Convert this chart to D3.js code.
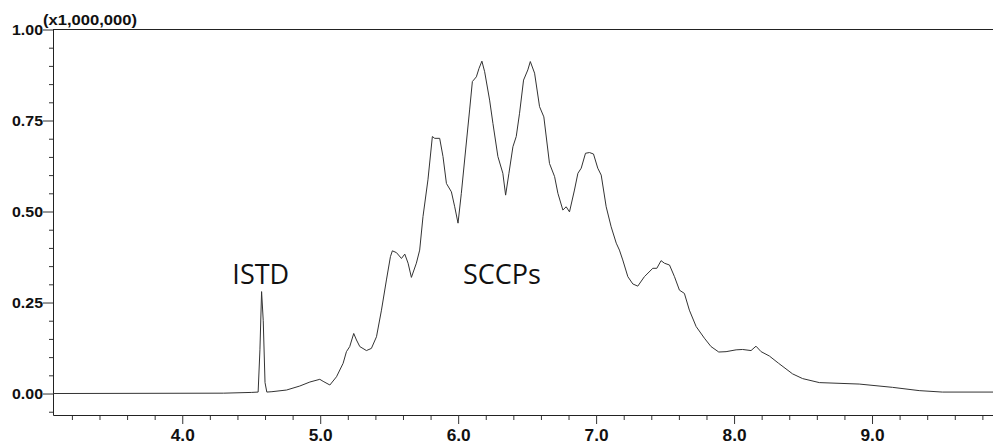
<!DOCTYPE html>
<html>
<head>
<meta charset="utf-8">
<script src="https://cdn.jsdelivr.net/npm/d3@7"></script>
<style>
  body { margin: 0; background: #fff; }
</style>
</head>
<body>
<div id="chrom"></div>
<script>
// retention time (min) and intensity (x1,000,000)
let times = [3.063, 4.30, 4.50, 4.55, 4.563, 4.575, 4.587, 4.60, 4.613, 4.65, 4.756, 4.852, 4.925, 4.997,
  5.021, 5.07, 5.118, 5.166, 5.19, 5.214, 5.243, 5.263, 5.287, 5.335, 5.371, 5.408, 5.444, 5.48,
  5.509, 5.523, 5.553, 5.589, 5.613, 5.637, 5.661, 5.697, 5.721, 5.745, 5.781, 5.813, 5.83, 5.866,
  5.89, 5.915, 5.951, 5.975, 5.999, 6.023, 6.054, 6.083, 6.103, 6.132, 6.151, 6.172, 6.192, 6.228,
  6.252, 6.288, 6.324, 6.344, 6.368, 6.397, 6.421, 6.445, 6.474, 6.505, 6.523, 6.554, 6.59, 6.621,
  6.662, 6.699, 6.723, 6.759, 6.783, 6.807, 6.843, 6.868, 6.892, 6.923, 6.952, 6.981, 7.012, 7.037,
  7.073, 7.109, 7.146, 7.169, 7.193, 7.23, 7.266, 7.302, 7.35, 7.411, 7.44, 7.471, 7.495, 7.532,
  7.568, 7.604, 7.64, 7.676, 7.725, 7.785, 7.833, 7.889, 7.942, 8.015, 8.062, 8.123, 8.159, 8.196,
  8.256, 8.323, 8.424, 8.497, 8.618, 8.907, 9.148, 9.342, 9.51, 9.877];
let intensity = [0.000, 0.001, 0.003, 0.004, 0.12, 0.280, 0.20, 0.03, 0.004, 0.005, 0.0096, 0.0206, 0.0316, 0.039,
  0.0335, 0.0234, 0.046, 0.083, 0.115, 0.129, 0.165, 0.147, 0.129, 0.118, 0.124, 0.156, 0.229, 0.312,
  0.376, 0.392, 0.387, 0.371, 0.383, 0.358, 0.319, 0.358, 0.394, 0.486, 0.587, 0.706, 0.701, 0.701,
  0.651, 0.577, 0.554, 0.513, 0.468, 0.55, 0.669, 0.779, 0.857, 0.87, 0.893, 0.913, 0.884, 0.806,
  0.742, 0.651, 0.605, 0.545, 0.605, 0.678, 0.706, 0.77, 0.861, 0.889, 0.912, 0.88, 0.788, 0.76,
  0.632, 0.596, 0.55, 0.504, 0.513, 0.499, 0.559, 0.605, 0.619, 0.66, 0.662, 0.658, 0.619, 0.6,
  0.513, 0.458, 0.413, 0.394, 0.367, 0.321, 0.301, 0.295, 0.321, 0.344, 0.344, 0.365, 0.358, 0.353,
  0.321, 0.284, 0.275, 0.229, 0.184, 0.152, 0.129, 0.114, 0.115, 0.12, 0.121, 0.118, 0.13, 0.115,
  0.103, 0.083, 0.054, 0.041, 0.03, 0.026, 0.017, 0.008, 0.004, 0.004];

let xMajor = [4.0, 5.0, 6.0, 7.0, 8.0, 9.0];
let yMajor = [0.00, 0.25, 0.50, 0.75, 1.00];
let peakLabels = ["ISTD", "SCCPs"];
let peakLabelTimes = [4.569, 6.317];
let peakLabelLevels = [0.30, 0.30];

let width = 993, height = 443;
let margin = { top: 29.5, bottom: 28, left: 53, right: 0 };

let svg = d3.select("#chrom")
            .append("svg")
            .attr("width", width)
            .attr("height", height);

let xscale = d3.scaleLinear()
               .domain([3.063, 9.877])
               .range([margin.left, width - margin.right]);

let yscale = d3.scaleLinear()
               .domain([-0.059, 1.0])
               .range([height - margin.bottom, margin.top]);

let xMinor = d3.range(3.2, 9.81, 0.2).filter(v => Math.abs(v - Math.round(v)) > 0.01);
let yMinor = d3.range(-0.05, 0.99, 0.05).filter(v => Math.abs(v * 4 - Math.round(v * 4)) > 0.01);

let axisFont = "'Liberation Sans', Arial, sans-serif";

// minor ticks
svg.append("g")
   .attr("transform", `translate(0,${height - margin.bottom})`)
   .call(d3.axisBottom(xscale).tickValues(xMinor).tickSize(5).tickFormat(""))
   .call(g => g.select(".domain").remove());

svg.append("g")
   .attr("transform", `translate(${margin.left},0)`)
   .call(d3.axisLeft(yscale).tickValues(yMinor).tickSize(4).tickFormat(""))
   .call(g => g.select(".domain").remove());

// major ticks + labels
let xaxis = svg.append("g")
               .attr("transform", `translate(0,${height - margin.bottom})`)
               .call(d3.axisBottom(xscale).tickValues(xMajor).tickSize(9).tickSizeOuter(0)
                       .tickFormat(d3.format(".1f")));

xaxis.selectAll("text")
     .attr("y", 26)
     .attr("dy", null)
     .attr("font-family", axisFont)
     .attr("font-weight", "bold")
     .attr("font-size", 16)
     .attr("fill", "#111")
     .attr("textLength", 24)
     .attr("lengthAdjust", "spacingAndGlyphs");

let yaxis = svg.append("g")
               .attr("transform", `translate(${margin.left},0)`)
               .call(d3.axisLeft(yscale).tickValues(yMajor).tickSize(10).tickSizeOuter(0)
                       .tickFormat(d3.format(".2f")));

yaxis.selectAll("text")
     .attr("x", -10)
     .attr("dy", "0.36em")
     .attr("font-family", axisFont)
     .attr("font-weight", "bold")
     .attr("font-size", 14)
     .attr("fill", "#111")
     .attr("textLength", 31)
     .attr("lengthAdjust", "spacingAndGlyphs");

svg.selectAll(".tick line").attr("stroke", "#333");
svg.selectAll(".domain").attr("stroke", "#222");

// top frame line
svg.append("line")
   .attr("x1", margin.left)
   .attr("x2", width - margin.right)
   .attr("y1", yscale(1.0))
   .attr("y2", yscale(1.0))
   .attr("stroke", "#222")
   .attr("stroke-width", 1.2);

svg.append("text")
   .text("(x1,000,000)")
   .attr("x", 43)
   .attr("y", 25)
   .attr("font-family", axisFont)
   .attr("font-weight", "bold")
   .attr("font-size", 14)
   .attr("fill", "#111")
   .attr("textLength", 94)
   .attr("lengthAdjust", "spacingAndGlyphs");

// chromatogram trace
let points = times.map((t, i) => [t, intensity[i]]);
let line = d3.line()
             .x(d => xscale(d[0]))
             .y(d => yscale(d[1]));

svg.append("path")
   .datum(points)
   .attr("d", line)
   .attr("fill", "none")
   .attr("stroke", "#333")
   .attr("stroke-width", 1)
   .attr("stroke-linejoin", "round");

// peak annotations
svg.selectAll(".peak-label")
   .data(peakLabels)
   .enter()
   .append("text")
   .attr("class", "peak-label")
   .text(d => d)
   .attr("x", (d, i) => xscale(peakLabelTimes[i]))
   .attr("y", (d, i) => yscale(peakLabelLevels[i]))
   .attr("text-anchor", "middle")
   .attr("font-family", "'Open Sans', 'Noto Sans', sans-serif")
   .attr("font-size", 27)
   .attr("fill", "#111");
</script>
</body>
</html>
